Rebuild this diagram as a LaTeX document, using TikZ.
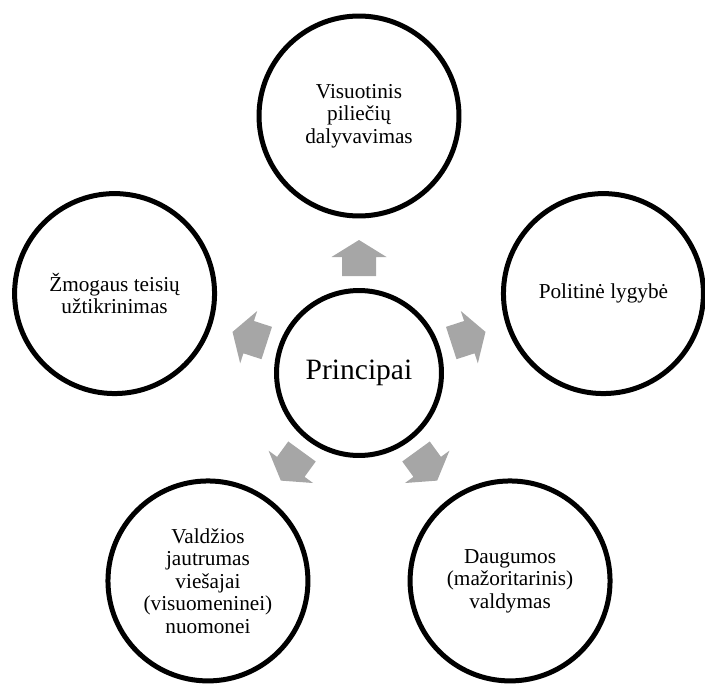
\documentclass[tikz,border=0pt]{standalone}
\usepackage{fontspec}
\setmainfont{Liberation Serif}
\usetikzlibrary{calc}
\definecolor{arrowgray}{RGB}{166,166,166}

\begin{document}
\begin{tikzpicture}[x=0.02cm,y=0.02cm,
    ring/.style={draw,circle,line width=0.1cm,minimum size=4cm,inner sep=0pt,align=center,font=\fontsize{12.1}{12.8}\selectfont},
    hub/.style={draw,circle,line width=0.1cm,minimum size=3.3cm,inner sep=0pt,font=\fontsize{16.8}{18}\selectfont},
    blockarrow/.pic={\fill[arrowgray] (-18,-17) -- (1,-17) -- (1,-27.5) -- (18,0) -- (1,27.5) -- (1,17) -- (-18,17) -- cycle;}]
    \useasboundingbox (0,0) rectangle (705,684);
    \node[hub] (principai) at (359,311) {Principai};
    \node[ring] (dalyvavimas) at ($(principai)+(90:257)$) {Visuotinis\\piliečių\\dalyvavimas};
    \node[ring] (lygybe) at ($(principai)+(18:257)$) {Politinė lygybė};
    \node[ring] (dauguma) at ($(principai)+(-54:257)$) {Daugumos\\(mažoritarinis)\\valdymas};
    \node[ring] (jautrumas) at ($(principai)+(-126:257)$) {Valdžios\\jautrumas\\viešajai\\(visuomeninei)\\nuomonei};
    \node[ring] (teises) at ($(principai)+(162:257)$) {Žmogaus teisių\\užtikrinimas};
    \foreach \a in {90,18,-54,-126,162}
      \pic[rotate=\a] at ($(principai)+(\a:115)$) {blockarrow};
  \end{tikzpicture}
\end{document}
